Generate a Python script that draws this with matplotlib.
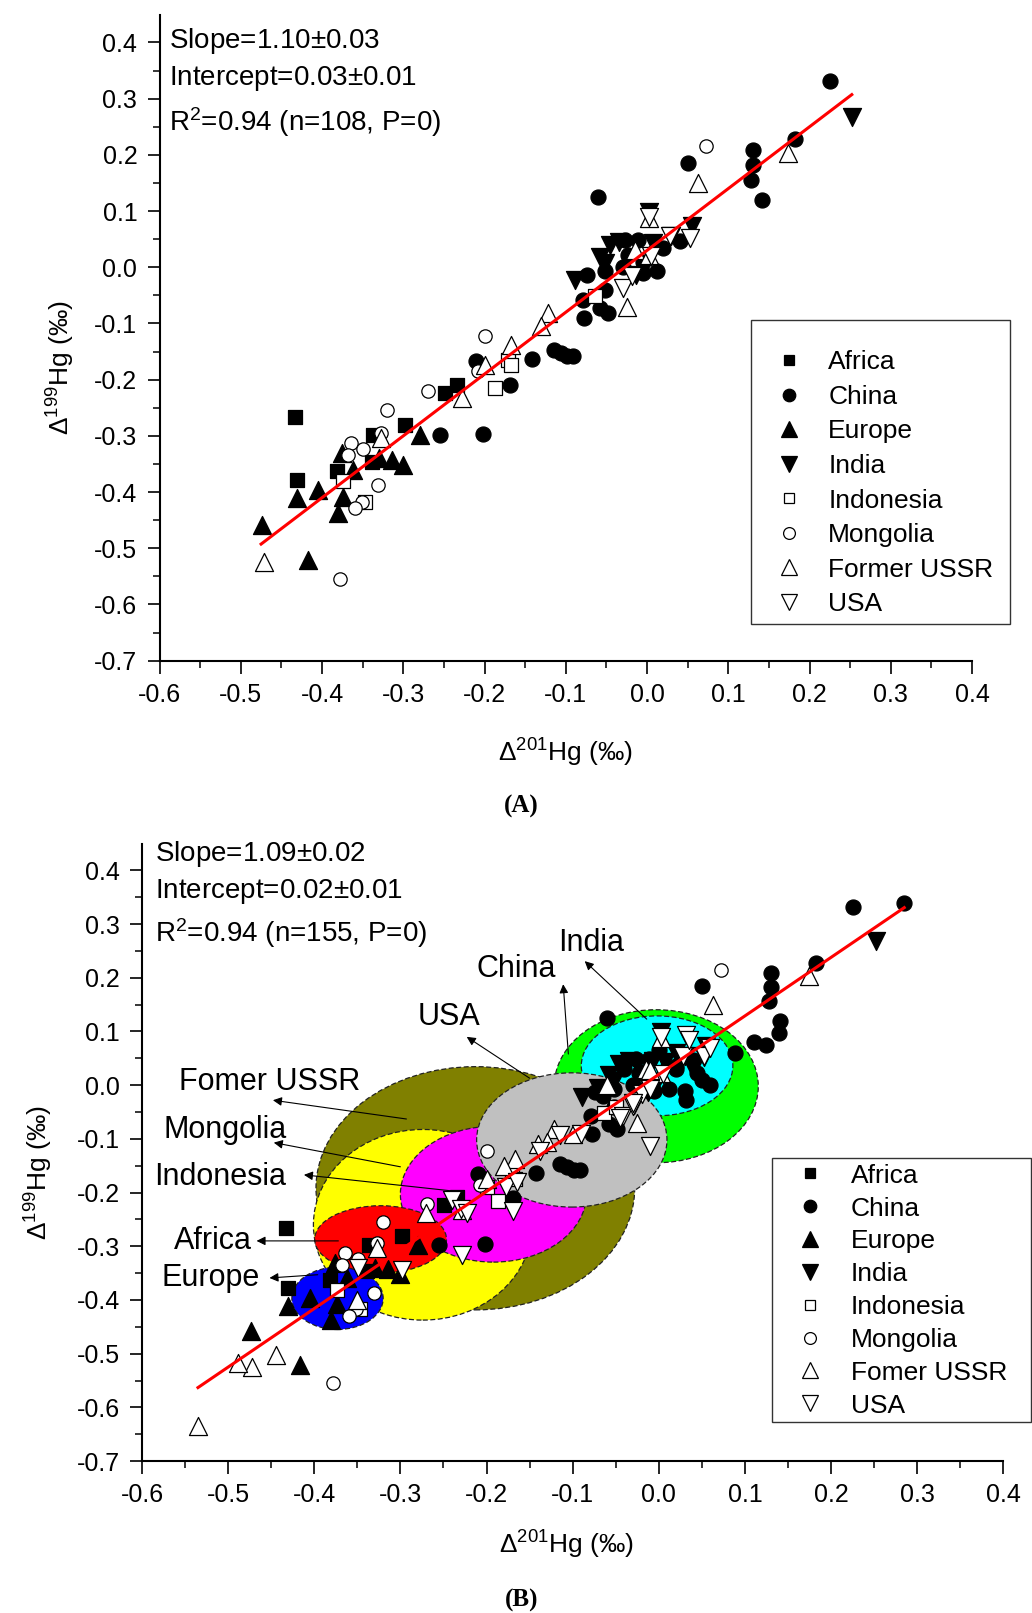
import matplotlib
matplotlib.use('Agg')
import matplotlib.pyplot as plt
from matplotlib.patches import Ellipse, Rectangle
from matplotlib.lines import Line2D
from matplotlib.ticker import MultipleLocator, FuncFormatter

plt.rcParams['font.family'] = ['Liberation Sans', 'DejaVu Sans']
plt.rcParams['mathtext.fontset'] = 'custom'
plt.rcParams['mathtext.rm'] = 'Liberation Sans'
plt.rcParams['mathtext.default'] = 'regular'

# ---------------- data (panel A) ----------------
africa_x = [-0.433, -0.431, -0.382, -0.337, -0.339, -0.298, -0.249, -0.234]
africa_y = [-0.266, -0.378, -0.363, -0.298, -0.346, -0.280, -0.223, -0.209]

china_x = [-0.255, -0.202, -0.210, -0.169, -0.142, -0.115, -0.106, -0.099, -0.091, -0.060,
           0.050, 0.130, 0.130, 0.128, 0.141, 0.182, 0.225, -0.027, -0.011, -0.023,
           -0.005, 0.012, -0.052, -0.074, -0.052, -0.079, -0.058, -0.048, -0.077, 0.040,
           -0.005, -0.030, 0.020]
china_y = [-0.298, -0.296, -0.166, -0.210, -0.163, -0.147, -0.152, -0.158, -0.158, 0.125,
           0.185, 0.209, 0.182, 0.156, 0.120, 0.228, 0.331, 0.049, 0.049, 0.022,
           0.010, -0.007, -0.007, -0.013, -0.040, -0.058, -0.073, -0.082, -0.090, 0.046,
           -0.010, 0.000, 0.035]

europe_x = [-0.474, -0.417, -0.431, -0.405, -0.380, -0.374, -0.362, -0.376, -0.314, -0.300, -0.280, -0.330]
europe_y = [-0.458, -0.521, -0.411, -0.396, -0.438, -0.408, -0.360, -0.331, -0.343, -0.352, -0.298, -0.340]

india_x = [0.003, -0.046, -0.052, -0.089, 0.007, 0.055, -0.013, 0.030, 0.252, -0.058, -0.035]
india_y = [0.099, 0.040, 0.007, -0.022, 0.043, 0.073, -0.013, 0.055, 0.268, 0.019, 0.045]

indonesia_x = [-0.374, -0.347, -0.187, -0.171, -0.167, -0.064]
indonesia_y = [-0.381, -0.417, -0.215, -0.165, -0.174, -0.052]

mongolia_x = [-0.200, -0.269, -0.320, -0.327, -0.364, -0.349, -0.368, -0.331, -0.351, -0.360, -0.378, -0.208, 0.072]
mongolia_y = [-0.123, -0.221, -0.254, -0.294, -0.313, -0.324, -0.334, -0.387, -0.417, -0.429, -0.555, -0.185, 0.215]

ussr_x = [-0.472, -0.327, -0.228, -0.200, -0.167, 0.003, 0.063, 0.174, -0.015, 0.003, -0.025, -0.122, -0.130]
ussr_y = [-0.524, -0.304, -0.233, -0.174, -0.138, 0.088, 0.150, 0.203, 0.031, 0.022, -0.070, -0.082, -0.105]

usa_x = [0.028, 0.053, -0.029, -0.019, 0.005, 0.003]
usa_y = [0.055, 0.052, -0.037, -0.016, 0.020, 0.090]

# ---------------- extra samples in panel B ----------------
china_xb = [0.285, 0.139, 0.110, 0.125, 0.088, 0.032, 0.044, 0.050, 0.020, 0.060, 0.030, -0.040, -0.065, 0.000]
china_yb = [0.340, 0.098, 0.080, 0.074, 0.060, -0.027, 0.023, 0.010, 0.030, 0.000, -0.010, 0.030, -0.020, 0.065]
india_xb = [-0.007, -0.020, 0.020, -0.070, 0.040]
india_yb = [0.045, 0.020, 0.060, -0.005, 0.030]
indonesia_xb = [-0.200, -0.050]
indonesia_yb = [-0.190, -0.040]
ussr_xb = [-0.535, -0.488, -0.444, -0.060, -0.270, -0.010, -0.100, -0.140, -0.350, -0.180]
ussr_yb = [-0.635, -0.518, -0.502, 0.001, -0.238, 0.029, -0.090, -0.110, -0.400, -0.150]
usa_xb = [-0.349, -0.298, -0.229, -0.240, -0.230, -0.169, -0.223, -0.177, -0.165, -0.138, -0.115,
          -0.090, -0.010, -0.041, -0.030, 0.032, 0.052, -0.010, -0.030, -0.045, 0.035, 0.060]
usa_yb = [-0.341, -0.344, -0.316, -0.213, -0.230, -0.235, -0.238, -0.189, -0.180, -0.123, -0.092,
          -0.090, -0.114, -0.058, -0.039, 0.094, 0.054, -0.008, -0.033, -0.061, 0.085, 0.070]

# regression fits: slope, intercept, x start, x end
fit_a = (1.10, 0.03, -0.475, 0.252)
fit_b = (1.09, 0.02, -0.535, 0.285)
stats_a = ['Slope=1.10$\\pm$0.03', 'Intercept=0.03$\\pm$0.01', 'R$^2$=0.94 (n=108, P=0)']
stats_b = ['Slope=1.09$\\pm$0.02', 'Intercept=0.02$\\pm$0.01', 'R$^2$=0.94 (n=155, P=0)']

# ellipses in panel B: centre x, centre y, width, height, colour (drawing order)
ell_cx = [-0.213, -0.003, -0.002, -0.274, -0.192, -0.101, -0.323, -0.373]
ell_cy = [-0.192, -0.002, 0.036, -0.260, -0.203, -0.102, -0.287, -0.397]
ell_w = [0.370, 0.237, 0.176, 0.254, 0.216, 0.221, 0.153, 0.106]
ell_h = [0.453, 0.285, 0.186, 0.355, 0.253, 0.250, 0.125, 0.116]
ell_col = ['#808000', '#00ff00', '#00ffff', '#ffff00', '#ff00ff', '#c0c0c0', '#ff0000', '#0000ff']

ann_labels = ['India', 'China', 'USA', 'Fomer USSR', 'Mongolia', 'Indonesia', 'Africa', 'Europe']
ann_text = [(-0.078, 0.265), (-0.165, 0.217), (-0.244, 0.127), (-0.452, 0.006),
            (-0.503, -0.083), (-0.509, -0.171), (-0.518, -0.290), (-0.520, -0.359)]
ann_head = [(-0.086, 0.231), (-0.111, 0.188), (-0.223, 0.090), (-0.448, -0.028),
            (-0.447, -0.107), (-0.412, -0.167), (-0.467, -0.290), (-0.452, -0.359)]
ann_tail = [(-0.014, 0.123), (-0.105, 0.058), (-0.150, 0.013), (-0.293, -0.063),
            (-0.300, -0.152), (-0.234, -0.198), (-0.372, -0.290), (-0.396, -0.353)]

legend_a = ['Africa', 'China', 'Europe', 'India', 'Indonesia', 'Mongolia', 'Former USSR', 'USA']
legend_b = ['Africa', 'China', 'Europe', 'India', 'Indonesia', 'Mongolia', 'Fomer USSR', 'USA']

# marker, face colour, size in pt (scatter), legend size
styles = [('s', 'black', 10.0, 7.5), ('o', 'black', 10.8, 9.0), ('^', 'black', 13.0, 11.5),
          ('v', 'black', 13.0, 11.5), ('s', 'white', 9.4, 7.5), ('o', 'white', 9.6, 8.5),
          ('^', 'white', 13.0, 11.5), ('v', 'white', 13.0, 11.5)]

groups_a = [(africa_x, africa_y), (china_x, china_y), (europe_x, europe_y), (india_x, india_y),
            (indonesia_x, indonesia_y), (mongolia_x, mongolia_y), (ussr_x, ussr_y), (usa_x, usa_y)]
groups_b = [(africa_x, africa_y), (china_x + china_xb, china_y + china_yb), (europe_x, europe_y),
            (india_x + india_xb, india_y + india_yb), (indonesia_x + indonesia_xb, indonesia_y + indonesia_yb),
            (mongolia_x, mongolia_y), (ussr_x + ussr_xb, ussr_y + ussr_yb), (usa_x + usa_xb, usa_y + usa_yb)]


def fmt(v, p):
    if abs(v) < 1e-9:
        return '0.0'
    return '%.1f' % v


def style_axes(ax, ytop):
    ax.set_xlim(-0.6, 0.4)
    ax.set_ylim(-0.7, ytop)
    for s in ['top', 'right']:
        ax.spines[s].set_visible(False)
    for s in ['left', 'bottom']:
        ax.spines[s].set_linewidth(1.5)
    ax.xaxis.set_major_locator(MultipleLocator(0.1))
    ax.xaxis.set_minor_locator(MultipleLocator(0.05))
    ax.yaxis.set_major_locator(MultipleLocator(0.1))
    ax.yaxis.set_minor_locator(MultipleLocator(0.05))
    ax.xaxis.set_major_formatter(FuncFormatter(fmt))
    ax.yaxis.set_major_formatter(FuncFormatter(fmt))
    ax.tick_params(which='major', direction='out', length=9, width=1.2, labelsize=18)
    ax.tick_params(which='minor', direction='out', length=5, width=1.1)
    ax.tick_params(axis='x', which='major', pad=7)
    ax.tick_params(axis='y', which='major', pad=7)
    ax.set_xlabel('$\\Delta^{201}$Hg (\u2030)', fontsize=19)
    ax.set_ylabel('$\\Delta^{199}$Hg (\u2030)', fontsize=19)


def draw_points(ax, groups):
    for (gx, gy), (m, fc, ms, lms) in zip(groups, styles):
        ax.scatter(gx, gy, marker=m, s=ms ** 2, facecolors=fc, edgecolors='black',
                   linewidths=0.9, zorder=3)


def draw_fit(ax, fit):
    k, b, x0, x1 = fit
    ax.plot([x0, x1], [k * x0 + b, k * x1 + b], color='red', lw=2.2, zorder=4)


def draw_legend(ax, names, anchor, spacing, pad, frame):
    handles = []
    for (m, fc, ms, lms) in styles:
        handles.append(Line2D([], [], ls='none', marker=m, markerfacecolor=fc,
                              markeredgecolor='black', markeredgewidth=0.9, markersize=lms))
    ax.legend(handles, names, loc='upper left', bbox_to_anchor=anchor, frameon=False,
              fontsize=19, borderpad=0, borderaxespad=0, handlelength=1.0,
              handletextpad=pad, labelspacing=spacing)
    ax.add_patch(Rectangle((frame[0], frame[1]), frame[2], frame[3], transform=ax.transAxes,
                           fill=False, edgecolor='#333333', lw=1.0, clip_on=False, zorder=5))


fig = plt.figure(figsize=(10.32, 16.13), dpi=100)

# ---------------- panel A ----------------
ax_a = fig.add_axes([0.1546, 0.5904, 0.7873, 0.4000])
style_axes(ax_a, 0.448)
draw_points(ax_a, groups_a)
draw_fit(ax_a, fit_a)
for txt, yy in zip(stats_a, [0.403, 0.335, 0.259]):
    ax_a.text(-0.588, yy, txt, fontsize=20, ha='left', va='center')
draw_legend(ax_a, legend_a, (0.759, 0.481), 0.40, 0.97, (0.728, 0.057, 0.319, 0.471))
ax_a.xaxis.set_label_coords(0.50, -0.118)
ax_a.yaxis.set_label_coords(-0.102, 0.455)

# ---------------- panel B ----------------
ax_b = fig.add_axes([0.1376, 0.0942, 0.8346, 0.3825])
style_axes(ax_b, 0.449)
for cx, cy, w, h, c in zip(ell_cx, ell_cy, ell_w, ell_h, ell_col):
    ax_b.add_patch(Ellipse((cx, cy), w, h, facecolor=c, edgecolor='#222222',
                           ls=(0, (4, 2)), lw=0.9, zorder=1))
draw_points(ax_b, groups_b)
draw_fit(ax_b, fit_b)
for txt, yy in zip(stats_b, [0.430, 0.361, 0.284]):
    ax_b.text(-0.585, yy, txt, fontsize=20, ha='left', va='center')
for lab, t, h, s in zip(ann_labels, ann_text, ann_head, ann_tail):
    ax_b.text(t[0], t[1], lab, fontsize=22, ha='center', va='center', zorder=6)
    ax_b.annotate('', xy=h, xytext=s,
                  arrowprops=dict(arrowstyle='-|>', color='black', lw=0.8,
                                  mutation_scale=13, shrinkA=0, shrinkB=0), zorder=6)
draw_legend(ax_b, legend_b, (0.760, 0.482), 0.335, 1.05, (0.731, 0.063, 0.301, 0.429))
ax_b.xaxis.set_label_coords(0.493, -0.109)
ax_b.yaxis.set_label_coords(-0.101, 0.467)

fig.text(0.5055, 0.5000, '(A)', family=['Liberation Serif', 'DejaVu Serif'], weight='bold',
         fontsize=18, ha='center', va='center')
fig.text(0.5055, 0.0080, '(B)', family=['Liberation Serif', 'DejaVu Serif'], weight='bold',
         fontsize=18, ha='center', va='center')

fig.savefig('out.png', dpi=100)
